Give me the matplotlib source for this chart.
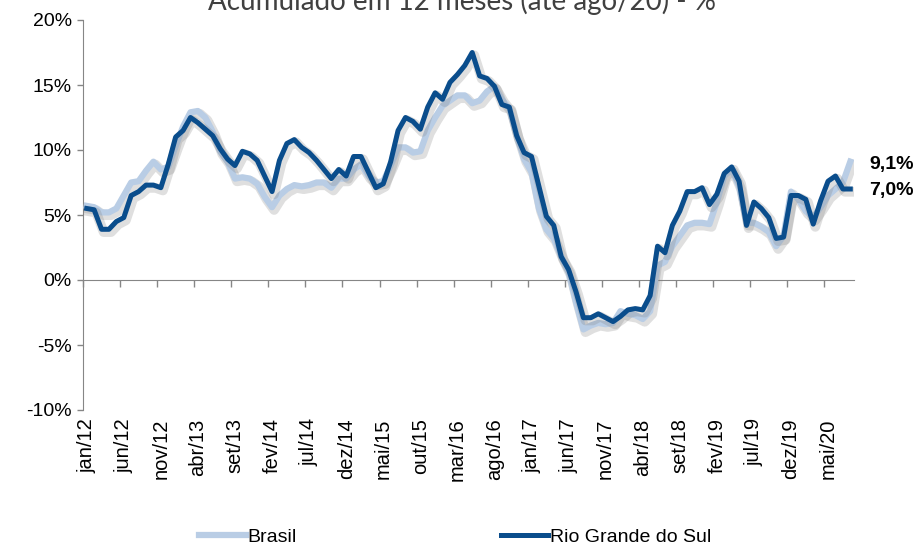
import matplotlib
matplotlib.use('Agg')
import matplotlib.pyplot as plt
import matplotlib.patheffects as pe
from matplotlib.lines import Line2D
import numpy as np

# meses de jan/12 a ago/20
meses = ['jan', 'fev', 'mar', 'abr', 'mai', 'jun', 'jul', 'ago', 'set', 'out', 'nov', 'dez']
periodos = ['%s/%02d' % (meses[i % 12], 12 + i // 12) for i in range(104)]

brasil = [5.7, 5.6, 5.2, 5.2, 5.5, 6.5, 7.5, 7.6, 8.4, 9.1, 8.5, 8.7,
          10.3, 11.8, 12.9, 13.0, 12.5, 11.4, 9.9, 9.1, 7.8, 7.9, 7.8, 7.4,
          6.4, 5.6, 6.5, 7.0, 7.3, 7.2, 7.3, 7.5, 7.5, 7.1, 7.8, 7.8,
          8.5, 8.9, 8.0, 7.5, 7.6, 8.8, 10.2, 10.2, 9.8, 9.9, 11.5, 12.5,
          13.4, 13.8, 14.2, 14.2, 13.6, 13.8, 14.5, 14.9, 13.9, 13.2, 11.1, 9.3,
          8.3, 5.5, 3.9, 3.2, 1.8, 0.6, -1.7, -3.8, -3.5, -3.3, -3.4, -3.3,
          -2.4, -2.6, -2.7, -3.0, -2.4, 1.1, 1.4, 2.6, 3.4, 4.2, 4.4, 4.4,
          4.3, 6.0, 8.0, 8.5, 7.2, 4.4, 4.4, 4.1, 3.7, 2.6, 3.4, 6.8,
          6.2, 5.3, 4.8, 5.6, 6.5, 7.0, 7.5, 9.1]

rs = [5.5, 5.4, 3.9, 3.9, 4.5, 4.8, 6.5, 6.8, 7.3, 7.3, 7.1, 8.9,
      11.0, 11.5, 12.5, 12.1, 11.6, 11.1, 10.1, 9.3, 8.8, 9.9, 9.7, 9.2,
      8.0, 6.8, 9.2, 10.5, 10.8, 10.2, 9.8, 9.2, 8.5, 7.8, 8.5, 8.0,
      9.5, 9.5, 8.3, 7.1, 7.4, 9.1, 11.5, 12.5, 12.2, 11.6, 13.3, 14.4,
      13.9, 15.2, 15.8, 16.5, 17.5, 15.7, 15.5, 14.9, 13.5, 13.3, 11.1, 9.8,
      9.5, 7.2, 4.9, 4.2, 1.8, 0.8, -0.9, -2.9, -2.9, -2.6, -2.9, -3.2,
      -2.8, -2.3, -2.2, -2.3, -1.2, 2.6, 2.1, 4.2, 5.3, 6.8, 6.8, 7.1,
      5.8, 6.6, 8.2, 8.7, 7.6, 4.2, 6.0, 5.5, 4.8, 3.2, 3.3, 6.5,
      6.5, 6.2, 4.3, 6.1, 7.6, 8.0, 7.0, 7.0]

cor_brasil = '#b9cde5'
cor_rs = '#0a4d8c'
cinza = '#868686'

plt.rcParams['font.family'] = ['Liberation Sans', 'DejaVu Sans']

fig = plt.figure(figsize=(9.21, 5.47), dpi=100)
ax = fig.add_axes([83 / 921, 1 - 410 / 547, (854 - 83) / 921, (410 - 20) / 547])

x = np.arange(len(periodos))
sombra = [pe.SimpleLineShadow(offset=(1.5, -2), shadow_color='gray', alpha=0.25, linewidth=7), pe.Normal()]
ax.plot(x, brasil, color=cor_brasil, linewidth=4.5, path_effects=sombra, zorder=3,
        solid_joinstyle='round')
ax.plot(x, rs, color=cor_rs, linewidth=3.6, path_effects=sombra, zorder=4,
        solid_joinstyle='round')

ax.set_xlim(-0.5, len(periodos) - 0.5)
ax.set_ylim(-10, 20)
ax.set_yticks(np.arange(-10, 21, 5))
ax.set_yticklabels(['%d%%' % v for v in np.arange(-10, 21, 5)], fontsize=14)
ax.tick_params(axis='y', length=4, color=cinza, width=1, pad=4)

for s in ['top', 'right']:
    ax.spines[s].set_visible(False)
ax.spines['left'].set_color(cinza)
ax.spines['bottom'].set_color(cinza)
ax.spines['bottom'].set_position(('data', 0))

# marcas entre categorias no eixo do zero
ax.set_xticks(np.arange(0, len(periodos), 5) - 0.5)
ax.tick_params(axis='x', length=5, color=cinza, width=1, labelbottom=False, direction='out')

# rótulos das categorias embaixo
sec = ax.secondary_xaxis(0)
sec.spines['bottom'].set_visible(False)
pos = np.arange(0, len(periodos), 5)
sec.set_xticks(pos)
sec.set_xticklabels([periodos[i] for i in pos], rotation=90, fontsize=14.5)
sec.tick_params(axis='x', length=0, pad=6)

# valores finais
ax.annotate('%s%%' % ('%.1f' % brasil[-1]).replace('.', ','), xy=(x[-1], brasil[-1]),
            xytext=(19, -3), textcoords='offset pixels', fontsize=14, fontweight='bold',
            va='center', ha='left', annotation_clip=False)
ax.annotate('%s%%' % ('%.1f' % rs[-1]).replace('.', ','), xy=(x[-1], rs[-1]),
            xytext=(19, -2), textcoords='offset pixels', fontsize=14, fontweight='bold',
            va='center', ha='left', annotation_clip=False)

fig.text(0.502, 1 - 10 / 547, 'Acumulado em 12 meses (até ago/20) - %', ha='center', va='baseline',
         fontsize=20, color='#404040', family=['Lato', 'DejaVu Sans'])

handles = [Line2D([], [], color=cor_brasil, linewidth=4.5),
           Line2D([], [], color=cor_rs, linewidth=3.6)]
fig.legend(handles, ['Brasil', 'Rio Grande do Sul'], loc='center', bbox_to_anchor=(0.494, 0.018),
           ncol=2, frameon=False, fontsize=14, handlelength=2.4, handletextpad=0.1, columnspacing=10.5)

fig.savefig('out.png', dpi=100)
plt.close(fig)
